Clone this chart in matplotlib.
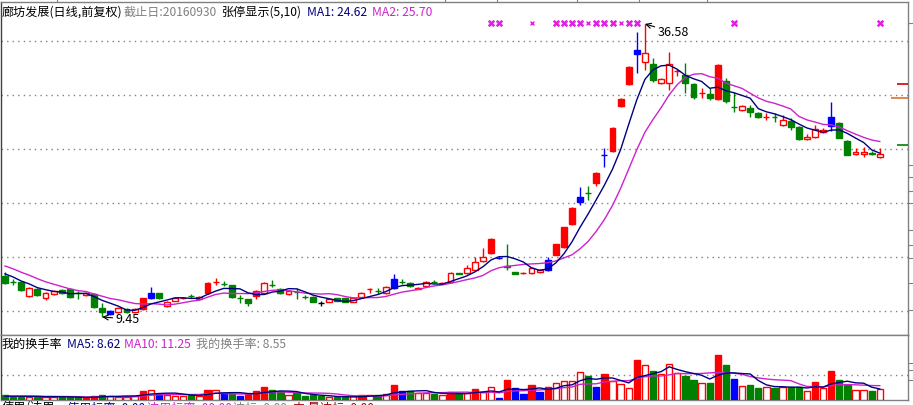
import numpy as np
import pandas as pd
import matplotlib
matplotlib.use('Agg')
import matplotlib.pyplot as plt

plt.rcParams['font.family'] = ['Noto Sans CJK SC', 'DejaVu Sans']

W, H = 913, 405

# 日K线数据（前复权），共 109 根
open_ = [13.24, 12.72, 12.69, 11.39, 12.04, 11.20, 11.57, 11.94, 12.04, 11.70,
         11.48, 11.57, 10.28, 9.72, 9.91, 10.19, 9.91, 10.19, 11.20, 11.67,
         10.46, 10.93, 11.18, 11.41, 11.11, 11.67, 12.66, 12.52, 12.41, 11.22,
         11.11, 11.39, 11.67, 12.43, 12.04, 11.57, 11.78, 11.32, 11.30, 10.74,
         10.83, 11.20, 11.20, 10.83, 11.30, 12.02, 11.87, 11.67, 12.13, 12.71,
         12.59, 12.04, 12.31, 12.71, 12.55, 12.69, 13.52, 13.52, 13.80, 14.63,
         15.37, 14.90, 14.17, 13.61, 13.48, 13.52, 13.61, 13.80, 15.19, 15.93,
         18.06, 20.09, 20.95, 21.85, 24.42, 24.81, 28.98, 31.02, 33.80, 33.06,
         32.87, 31.11, 31.11, 32.18, 31.85, 31.02, 30.15, 30.09, 29.63, 31.30,
         28.91, 28.61, 28.80, 28.33, 27.94, 27.98, 27.22, 27.59, 27.04, 25.93,
         26.11, 26.57, 27.13, 27.41, 25.74, 24.57, 24.50, 24.62, 24.22]
high = [13.61, 12.96, 12.78, 12.22, 12.13, 11.76, 11.94, 12.04, 12.13, 11.85,
        11.76, 11.67, 10.74, 10.09, 10.37, 10.28, 10.28, 11.25, 12.22, 11.70,
        10.90, 11.25, 11.30, 11.55, 11.35, 12.65, 13.05, 12.78, 12.45, 11.48,
        11.15, 11.90, 12.65, 12.87, 12.10, 11.90, 12.13, 11.48, 11.35, 10.93,
        11.15, 11.25, 11.25, 11.25, 11.72, 12.13, 12.13, 12.30, 13.43, 12.96,
        12.65, 12.20, 12.75, 12.90, 12.70, 13.60, 13.55, 14.26, 15.00, 15.83,
        16.75, 15.05, 16.20, 13.65, 13.60, 14.05, 13.85, 15.00, 16.25, 17.82,
        19.60, 21.48, 21.57, 22.85, 25.09, 27.00, 29.70, 32.65, 35.83, 36.58,
        33.43, 31.60, 33.98, 32.45, 32.96, 31.10, 30.65, 30.65, 32.85, 31.57,
        30.28, 29.05, 29.07, 28.40, 28.33, 28.33, 28.15, 27.87, 27.10, 26.39,
        27.22, 26.90, 29.35, 27.50, 25.80, 25.05, 25.15, 24.78, 25.05]
low = [12.50, 12.41, 11.85, 11.30, 11.39, 11.02, 11.48, 11.57, 11.20, 11.11,
       11.39, 10.28, 9.45, 9.63, 9.81, 9.85, 9.85, 10.09, 11.11, 11.15,
       10.40, 10.88, 11.10, 11.25, 11.05, 11.60, 12.41, 12.31, 11.25, 10.74,
       10.50, 11.10, 11.60, 12.22, 11.60, 11.50, 11.11, 11.11, 10.80, 10.46,
       10.80, 10.88, 10.80, 10.80, 11.25, 11.67, 11.57, 11.60, 12.05, 12.50,
       12.25, 12.00, 12.25, 12.55, 12.50, 12.60, 13.38, 13.45, 13.75, 14.55,
       15.30, 14.80, 13.80, 13.40, 13.45, 13.45, 13.55, 13.75, 15.15, 15.85,
       18.00, 19.81, 20.28, 21.57, 23.33, 24.75, 28.89, 30.95, 32.04, 32.31,
       31.20, 31.00, 30.46, 31.80, 30.19, 29.63, 29.72, 29.54, 29.55, 29.26,
       28.43, 28.55, 27.96, 27.90, 27.69, 27.50, 27.15, 26.76, 25.85, 25.85,
       25.98, 26.45, 26.70, 25.99, 24.42, 24.40, 24.22, 24.40, 24.13]
close = [12.59, 12.66, 11.94, 12.13, 11.48, 11.67, 11.85, 11.67, 11.30, 11.65,
         11.67, 10.37, 9.91, 10.00, 10.28, 9.91, 10.19, 11.20, 11.67, 11.20,
         10.83, 11.20, 11.22, 11.37, 11.30, 12.59, 12.72, 12.48, 11.30, 11.18,
         10.74, 11.85, 12.59, 12.39, 11.67, 11.85, 11.74, 11.28, 10.83, 10.74,
         11.11, 10.93, 10.83, 11.20, 11.67, 12.06, 11.83, 12.22, 12.96, 12.67,
         12.31, 12.16, 12.69, 12.67, 12.62, 13.52, 13.43, 13.98, 14.54, 15.00,
         16.67, 14.95, 14.07, 13.43, 13.56, 13.98, 13.80, 14.72, 16.20, 17.78,
         19.54, 20.56, 20.91, 22.78, 24.46, 26.94, 29.63, 32.59, 34.17, 33.89,
         31.39, 31.48, 32.87, 32.26, 31.11, 29.81, 30.22, 29.72, 32.78, 29.44,
         28.87, 28.98, 28.43, 27.96, 27.98, 27.94, 27.69, 27.04, 25.93, 26.14,
         26.88, 26.79, 28.00, 26.05, 24.48, 24.75, 24.75, 24.55, 24.57]
# K线颜色: r 空心红, R 实心红, g 绿, b 蓝, k 黑
candle_style = ("gggrgrrggg" "rggbrgrRbg" "rrrgrRRggg" "gRrggrgggk" "rggrrRgrbg"
                "gRrgRrgrrr" "RbggRrrbRR" "RbgRbRRRbr" "grrRggRgRg" "grggRgrggr"
                "rrbggrrgr")
# 窗口之前 9 个交易日收盘价（用于均线起点）
warm_close = [15.3, 15.1, 14.9, 14.7, 14.5, 14.1, 13.8, 13.5, 13.2]

# 我的换手率
turnover = [3.9, 2.6, 2.6, 2.6, 2.6, 2.6, 2.6, 2.1, 2.1, 2.1,
            1.3, 3.1, 3.9, 3.4, 2.6, 2.6, 3.1, 7.0, 7.8, 4.7,
            3.9, 3.4, 3.4, 3.9, 3.1, 7.8, 7.8, 5.2, 4.7, 3.1,
            4.4, 7.0, 9.9, 7.8, 6.0, 3.9, 5.2, 2.9, 3.7, 2.9,
            2.1, 2.1, 2.1, 2.9, 3.7, 4.1, 3.7, 4.7, 11.7, 7.0,
            6.8, 5.4, 5.4, 4.7, 3.7, 6.0, 5.2, 5.2, 8.5, 6.4,
            9.9, 1.3, 15.5, 9.1, 4.7, 11.7, 6.0, 9.9, 13.0, 15.0,
            15.0, 22.0, 18.6, 9.9, 20.2, 14.8, 12.4, 9.1, 31.1, 27.2,
            22.5, 20.2, 28.0, 20.7, 18.6, 15.5, 13.4, 13.4, 35.0, 27.2,
            16.3, 10.9, 11.7, 9.6, 10.3, 9.6, 10.3, 9.9, 9.9, 7.0,
            14.2, 9.1, 22.5, 15.5, 11.7, 7.8, 7.8, 7.0, 8.55]
turnover_style = ("gggrgrrggg" "RRgrrrrRrb" "rrrgrRrbgb" "RRRggrgggg" "rggrRrgrRb"
                  "grrgrRgrRr" "rbRbbRbRrr" "rrgbRrrrRr" "grrrggrgRg" "brggrgrggr"
                  "RrRggrrgr")
warm_turnover = [3.0, 2.8, 2.6, 2.9, 3.1, 2.7, 2.5, 2.8, 3.0]

# 涨停显示标记（K线序号），小号标记
limit_idx = [60, 61, 65, 68, 69, 70, 71, 72, 73, 74, 75, 76, 77, 78, 90, 108]
limit_small = [65, 72, 76]

# 右侧价位标记
side_marks = [(31.02, '#D00000'), (29.72, '#E07030'), (25.37, '#008000')]
right_ticks = [36.67, 23.52, 22.41, 21.11, 20.0, 17.5, 16.11, 14.91, 12.59, 10.09]
price_grid = [10, 15, 20, 25, 30, 35]

COL = {'r': '#FF0000', 'R': '#FF0000', 'g': '#008000', 'b': '#0000FF', 'k': '#000000'}
NAVY = '#000080'
MAG = '#CC22CC'
GRAY = '#808080'

n = len(close)
x = np.arange(n)


def px2i(px):
    return (px - 5) / 8.1


def ftext(px, py, s, color='black', size=8.7, **kw):
    fig.text(px / W, 1 - py / H, s, color=color, fontsize=size,
             ha='left', va='center', **kw)


fig = plt.figure(figsize=(W / 100, H / 100), dpi=100)
ax = fig.add_axes([1 / W, 70 / H, 907 / W, 333 / H])
axv = fig.add_axes([1 / W, 5 / H, 907 / W, 65 / H])

for a in (ax, axv):
    a.set_xlim(px2i(1), px2i(908))
    a.set_xticks([])
    a.tick_params(left=False, labelleft=False, bottom=False, labelbottom=False)
    for sp in a.spines.values():
        sp.set_color(GRAY)
        sp.set_linewidth(1)
    a.spines['left'].set_color('#404040')

ax.set_ylim(7.778, 38.611)
axv.set_ylim(0, 50.5)

# 网格
for g in price_grid:
    ax.axhline(g, color=GRAY, lw=1, ls=(0, (1, 3)), zorder=1)
axv.axhline(19.4, color=GRAY, lw=1, ls=(0, (1, 3)), zorder=1)

# K线
for i in range(n):
    s = candle_style[i]
    c = COL[s]
    ax.vlines(i, low[i], high[i], color=c, lw=1, zorder=2)
    lo, hi = min(open_[i], close[i]), max(open_[i], close[i])
    ax.bar(i, max(hi - lo, 0.03), bottom=lo, width=0.72,
           facecolor='white' if s == 'r' else c, edgecolor=c, lw=1, zorder=3)

# 均线
cs = pd.Series(warm_close + close)
ma1 = cs.rolling(5).mean().to_numpy()[len(warm_close):]
ma2 = cs.rolling(10).mean().to_numpy()[len(warm_close):]
ax.plot(x, ma2, color=MAG, lw=1, zorder=4)
ax.plot(x, ma1, color=NAVY, lw=1, zorder=4)

# 涨停标记
tr = ax.get_xaxis_transform()
big = [i for i in limit_idx if i not in limit_small]
ax.scatter(big, [0.937] * len(big), transform=tr, marker='x', s=16, lw=1.8,
           color='#E020E0', zorder=5, clip_on=False)
ax.scatter(limit_small, [0.937] * len(limit_small), transform=tr, marker='x',
           s=8, lw=1.0, color='#E020E0', zorder=5, clip_on=False)

# 最高/最低价标注
imax = int(np.argmax(high))
imin = int(np.argmin(low))
ax.annotate(f'{high[imax]:.2f}', xy=(imax, high[imax]), xytext=(9, -6),
            textcoords='offset points', ha='left', va='center', fontsize=9,
            arrowprops=dict(arrowstyle='->', color='black', lw=0.8,
                            shrinkA=0, shrinkB=0), zorder=6)
ax.annotate(f'{low[imin]:.2f}', xy=(imin, low[imin]), xytext=(9.5, -1.5),
            textcoords='offset points', ha='left', va='center', fontsize=9,
            arrowprops=dict(arrowstyle='->', color='black', lw=0.8,
                            shrinkA=0, shrinkB=0), zorder=6)

# 右侧价位标记
for val, col in side_marks:
    x0 = px2i(891) if col == '#E07030' else px2i(897)
    ax.hlines(val, x0, px2i(908), color=col, lw=1.2, zorder=5, clip_on=False)

ax.set_yticks(right_ticks)
ax.tick_params(axis='y', right=True, labelright=False, direction='out',
               length=5, color=GRAY)
ax.set_xticks([px2i(p) for p in (57, 445, 497, 577, 639, 707)])
ax.tick_params(axis='x', top=True, bottom=False, labeltop=False,
               direction='out', length=3, color=GRAY)
axv.set_yticks([28.7, 23.3, 15.5])
axv.tick_params(axis='y', right=True, labelright=False, direction='out',
                length=5, color=GRAY)

# 换手率柱
for i in range(n):
    s = turnover_style[i]
    c = COL[s]
    axv.bar(i, turnover[i], width=0.78, facecolor='white' if s == 'r' else c,
            edgecolor=c, lw=1, zorder=3)
ts = pd.Series(warm_turnover + turnover)
tma5 = ts.rolling(5).mean().to_numpy()[len(warm_turnover):]
tma10 = ts.rolling(10).mean().to_numpy()[len(warm_turnover):]
axv.plot(x, tma10, color=MAG, lw=1, zorder=4)
axv.plot(x, tma5, color=NAVY, lw=1, zorder=4)

# 标题文字
ftext(2, 12, '廊坊发展(日线,前复权)')
ftext(124, 12, '截止日:20160930', color=GRAY)
ftext(222, 12, '张停显示(5,10)')
ftext(307, 12, f'MA1: {ma1[-1]:.2f}', color=NAVY)
ftext(372, 12, f'MA2: {ma2[-1]:.2f}', color=MAG)

ftext(2, 344, '我的换手率')
ftext(67, 344, 'MA5: 8.62', color=NAVY)
ftext(124, 344, 'MA10: 11.25', color=MAG)
ftext(196, 344, f'我的换手率: {turnover[-1]:.2f}', color=GRAY)

# 底部被截断的一行
ftext(2, 408, '使用/达用')
ftext(67, 408, '使用标率: 0.00', color=NAVY)
ftext(147, 408, '达用标率: 00.00', color=MAG)
ftext(233, 408, '达标: 0.00', color=GRAY)
ftext(293, 408, '中 量达标: 0.00', color='#A00000')

fig.savefig('out.png', dpi=100)
